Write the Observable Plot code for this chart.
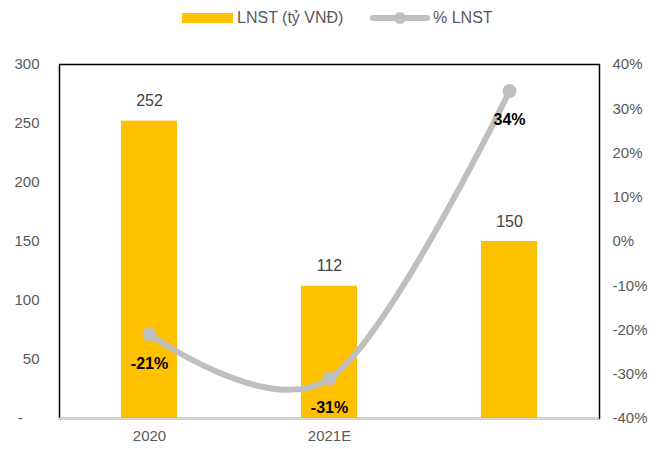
<!DOCTYPE html>
<html>
<head>
<meta charset="utf-8">
<script src="https://cdn.jsdelivr.net/npm/d3@7"></script>
<script src="https://cdn.jsdelivr.net/npm/@observablehq/plot@0.6"></script>
<style>
  body { margin: 0; background: #fff; font-family: "Liberation Sans", Arial, sans-serif; }
  #wrap { position: relative; width: 663px; height: 449px; }
  #legend { position: absolute; top: 8px; left: 0; width: 663px; height: 20px; font-size: 16px; color: #595959; }
  .li { position: absolute; top: 0; display: flex; align-items: center; height: 20px; }
</style>
</head>
<body>
<div id="wrap">
  <div id="chart"></div>
  <div id="legend">
    <div class="li" style="left:182px"><span style="display:inline-block;width:51px;height:10px;background:#FFC000;margin-right:4px"></span>LNST (tỷ VNĐ)</div>
    <div class="li" style="left:369px"><svg width="62" height="16" style="margin-right:2px"><line x1="4" y1="8" x2="58" y2="8" stroke="#BFBFBF" stroke-width="6" stroke-linecap="round"/><circle cx="31" cy="8" r="6" fill="#BFBFBF"/></svg>% LNST</div>
  </div>
</div>
<script>
const categories = ["2020", "2021E", "2022F"];
const tickLabels = ["2020", "2021E", ""];
const profit = [252, 112, 150];
const growth = [-21, -31, 34];
const leftTicks = [0, 50, 100, 150, 200, 250, 300];
const rightTicks = [-40, -30, -20, -10, 0, 10, 20, 30, 40];

const toY = p => (p + 40) / 80 * 300;
const bars = categories.map((c, i) => ({ c, v: profit[i] }));
const pts = categories.map((c, i) => ({ c, p: growth[i], y: toY(growth[i]) }));

const chart = Plot.plot({
  width: 663,
  height: 449,
  marginLeft: 59,
  marginRight: 64,
  marginTop: 64,
  marginBottom: 31,
  style: { fontFamily: "'Liberation Sans', Arial, sans-serif", fontSize: "15px", color: "#595959", background: "#fff" },
  x: { domain: categories, paddingInner: 0.69, paddingOuter: 0.345 },
  y: { domain: [0, 300] },
  marks: [
    Plot.barY(bars, { x: "c", y: "v", fill: "#FFC000" }),
    Plot.frame({ stroke: "#000", strokeWidth: 1.5 }),
    Plot.ruleY([0], { stroke: "#D9D9D9", strokeWidth: 2 }),
    Plot.axisX({ tickSize: 0, tickPadding: 12, label: null, fontSize: 15, fill: "#595959",
      tickFormat: d => tickLabels[categories.indexOf(d)] }),
    Plot.axisY({ anchor: "left", ticks: leftTicks, tickSize: 0, tickPadding: 20, label: null, fontSize: 15, fill: "#595959",
      tickFormat: d => d === 0 ? "-\u00a0\u00a0\u00a0\u00a0" : String(d) }),
    Plot.axisY({ anchor: "right", ticks: rightTicks.map(toY), tickSize: 0, tickPadding: 13, label: null, fontSize: 15, fill: "#595959",
      tickFormat: d => Math.round(d / 300 * 80 - 40) + "%" }),
    Plot.text(bars, { x: "c", y: "v", text: d => String(d.v), dy: -20, fontSize: 16, fill: "#404040" }),
    Plot.line(pts, { x: "c", y: "y", stroke: "#BFBFBF", strokeWidth: 6, curve: "cardinal" }),
    Plot.dot(pts, { x: "c", y: "y", r: 7, fill: "#BFBFBF" }),
    Plot.text(pts, { x: "c", y: "y", text: d => d.p + "%", dy: 29, fontSize: 16, fontWeight: "bold", fill: "#000" })
  ]
});
document.getElementById("chart").appendChild(chart);
</script>
</body>
</html>
